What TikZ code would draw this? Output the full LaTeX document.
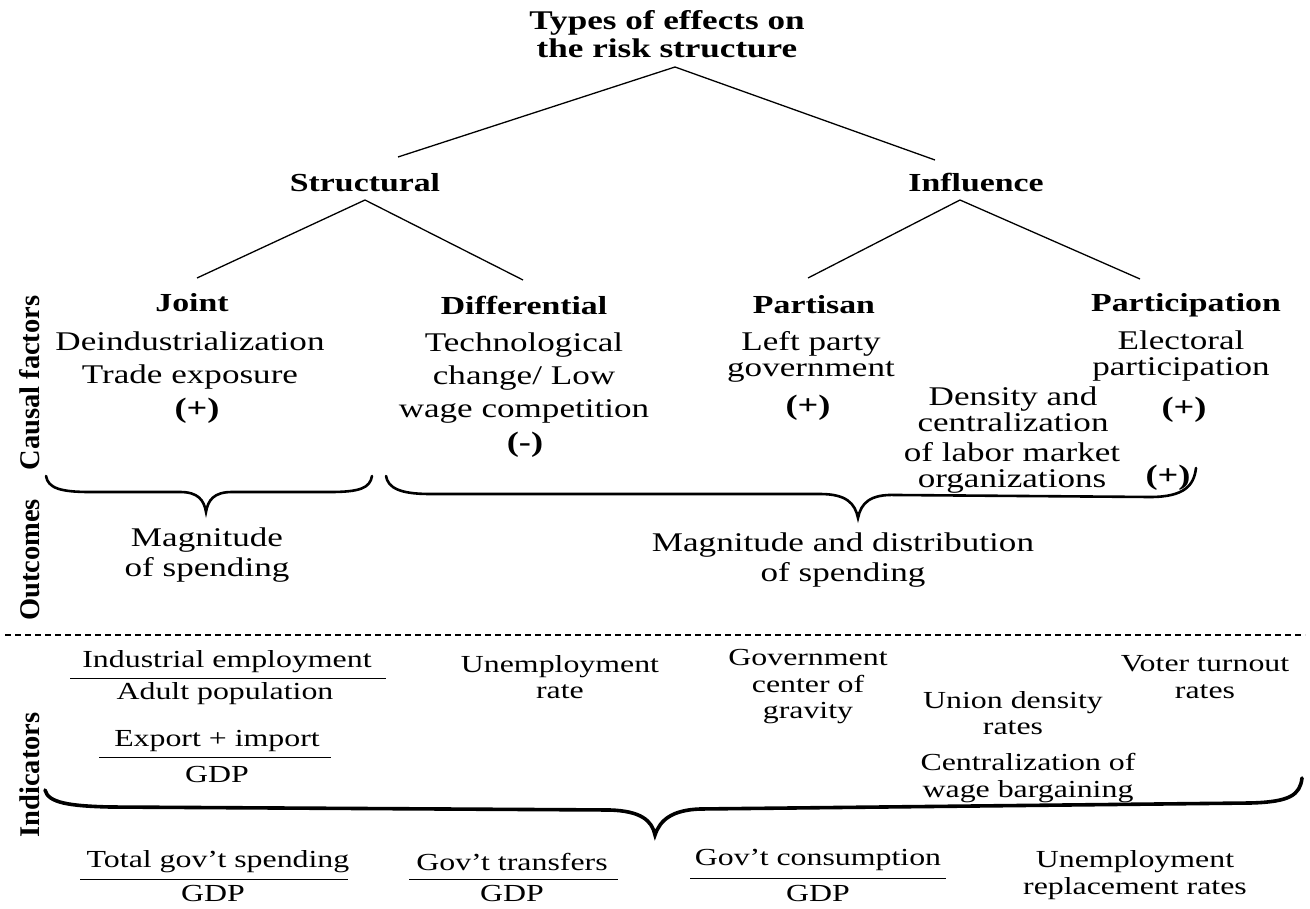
\documentclass[tikz,border=0pt]{standalone}
\usepackage{fontspec}
\setmainfont[FakeStretch=1.3]{Liberation Serif}
\newfontfamily\sidefont{Liberation Serif}

\begin{document}
\begin{tikzpicture}[x=1pt, y=-1pt,
        txt/.style={align=center, inner sep=0pt, font=\fontsize{27}{33}\selectfont},
        txtsm/.style={align=center, inner sep=0pt, font=\fontsize{27}{26}\selectfont},
        sign/.style={inner sep=0pt, font=\fontsize{28}{30}\selectfont\bfseries},
        outtxt/.style={align=center, inner sep=0pt, font=\fontsize{27}{30}\selectfont},
        hd/.style={align=center, inner sep=0pt, font=\fontsize{26}{28}\selectfont\bfseries},
        ind/.style={align=center, inner sep=0pt, font=\fontsize{24.5}{26.5}\selectfont},
        side/.style={rotate=90, inner sep=0pt, font=\sidefont\fontsize{28.5}{30}\selectfont\bfseries},
        branch/.style={line width=1.3pt},
        curly/.style={line width=2.6pt, line cap=round},
        fracrule/.style={line width=0.9pt}]
        \useasboundingbox (0,0) rectangle (1310,909);
        \fill[white] (0,0) rectangle (1310,909);

        \node[hd, font=\fontsize{27}{28}\selectfont\bfseries] (title) at (667,34) {Types of effects on\\the risk structure};
        \node[hd] (struct) at (365,183) {Structural};
        \node[hd] (infl) at (976,183) {Influence};

        \coordinate (tApex) at (675,67);
        \coordinate (sTop) at (398,157);
        \coordinate (iTop) at (935,160);
        \coordinate (sApex) at (365,200);
        \coordinate (iApex) at (960,200);
        \coordinate (jTop) at (197,278);
        \coordinate (dTop) at (523,280);
        \coordinate (pTop) at (808,278);
        \coordinate (qTop) at (1140,279);
        \draw[branch] (sTop) -- (tApex) -- (iTop);
        \draw[branch] (jTop) -- (sApex) -- (dTop);
        \draw[branch] (pTop) -- (iApex) -- (qTop);

        \node[hd] (joint) at (192,303) {Joint};
        \node[hd] (diff) at (524,305) {Differential};
        \node[hd] (part) at (814,305) {Partisan};
        \node[hd] (partc) at (1186,305) {Participation};

        \node[txt] (jointTxt) at (190,361) {Deindustrialization\\Trade exposure};
        \node[sign] (jointSign) at (197,411) {(+)};
        \node[txt] (diffTxt) at (524,378) {Technological\\change/ Low\\wage competition};
        \node[sign] (diffSign) at (525,445) {(-)};
        \node[txtsm] (partTxt) at (811,357) {Left party\\government};
        \node[sign] (partSign) at (808,408) {(+)};
        \node[txtsm] (partcTxt) at (1181,356) {Electoral\\participation};
        \node[sign] (partcSign) at (1184,410) {(+)};
        \node[txtsm] (densTxt) at (1013,409) {Density and\\centralization};
        \node[txtsm] (labTxt) at (1012,468) {of labor market\\organizations};
        \node[sign] (labSign) at (1168,478) {(+)};

        \draw[curly] (46,476) .. controls (48,488) and (60,492) .. (90,492) -- (180,492) .. controls (198,492) and (204,500) .. (206,512) .. controls (208,500) and (214,492) .. (232,492) -- (330,492) .. controls (360,492) and (370,488) .. (372,476);
        \draw[curly] (386,476) .. controls (388,488) and (400,494) .. (430,494) -- (820,494) .. controls (846,494) and (855,503) .. (858,518) .. controls (861,503) and (870,494) .. (896,495) -- (1150,497) .. controls (1185,497) and (1194,485) .. (1196,468);

        \node[outtxt] (magTxt) at (207,555) {Magnitude\\of spending};
        \node[outtxt] (magDist) at (843,560) {Magnitude and distribution\\of spending};

        \node[side] (causal) at (30,383) {Causal factors};
        \node[side] (outc) at (30,560) {Outcomes};
        \node[side] (indic) at (30,775) {Indicators};

        \draw[line width=1.5pt, dash pattern=on 6pt off 4pt] (5,635) -- (1305,635);

        \node[ind] (indEmp) at (227,662) {Industrial employment};
        \node[ind] (adultPop) at (225,694) {Adult population};
        \draw[fracrule] (70,678) -- (386,678);
        \node[ind] (expImp) at (217,741) {Export + import};
        \node[ind] (gdpA) at (217,775) {GDP};
        \draw[fracrule] (99,757) -- (331,757);
        \node[ind] (unempRate) at (560,677) {Unemployment\\rate};
        \node[ind] (govGrav) at (808,687) {Government\\center of\\gravity};
        \node[ind] (union) at (1013,713) {Union density\\rates};
        \node[ind] (voter) at (1205,677) {Voter turnout\\rates};
        \node[ind] (wageBarg) at (1028,778) {Centralization of\\wage bargaining};

        \draw[curly, line width=3.6pt] (45,790) .. controls (48,803) and (70,806) .. (110,807) -- (610,810) .. controls (640,811) and (652,820) .. (655,835) .. controls (660,820) and (672,810) .. (700,809) -- (1250,803) .. controls (1290,802) and (1300,795) .. (1302,778);

        \node[ind] (totSp) at (218,862) {Total gov't spending};
        \draw[fracrule] (80,879) -- (348,879);
        \node[ind] (gdpB) at (213,894) {GDP};
        \node[ind] (transf) at (512,862) {Gov't transfers};
        \draw[fracrule] (409,879) -- (618,879);
        \node[ind] (gdpC) at (512,894) {GDP};
        \node[ind] (consum) at (818,860) {Gov't consumption};
        \draw[fracrule] (690,878) -- (946,878);
        \node[ind] (gdpD) at (818,894) {GDP};
        \node[ind] (replRate) at (1135,875) {Unemployment\\replacement rates};
    \end{tikzpicture}
\end{document}
